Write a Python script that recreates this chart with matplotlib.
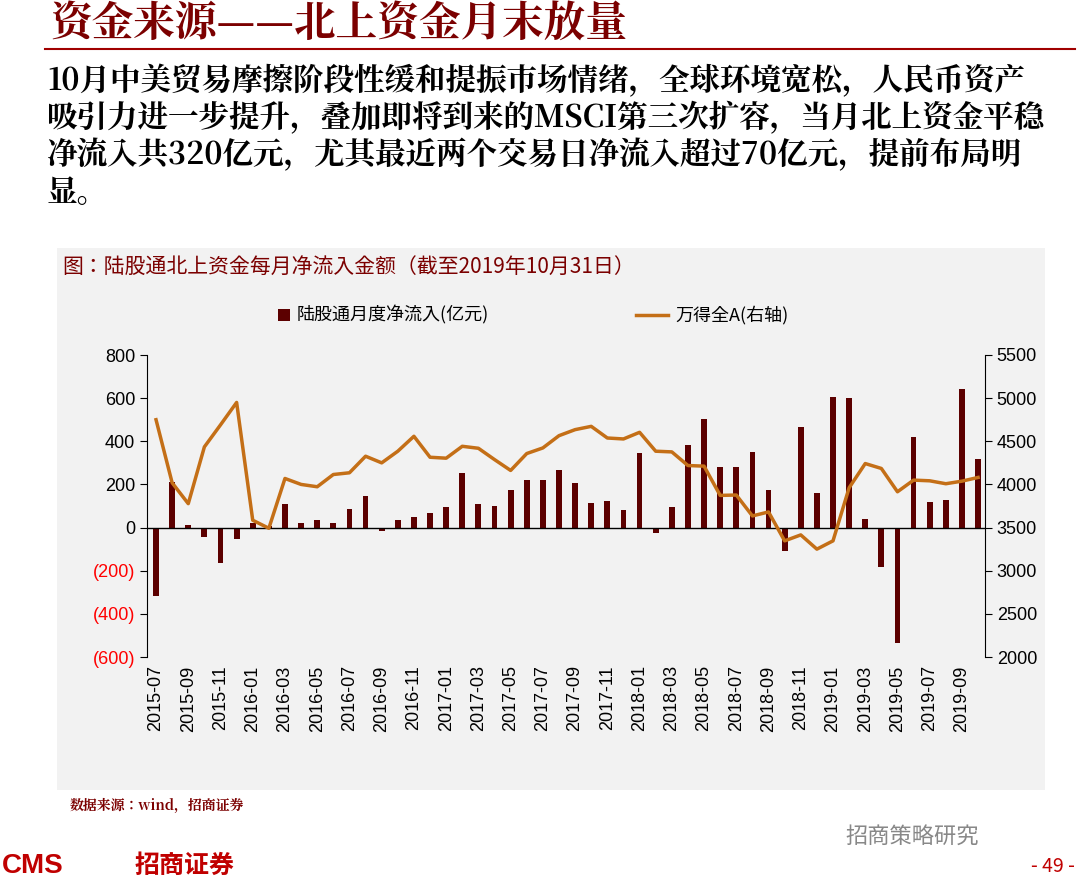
import matplotlib
matplotlib.use("Agg")
import matplotlib.pyplot as plt
from matplotlib import font_manager
from matplotlib.patches import Rectangle
from matplotlib.lines import Line2D

names = sorted({f.name for f in font_manager.fontManager.ttflist if 'CJK' in f.name})
def pick(key):
    for n in names:
        if key in n and 'SC' in n:
            return n
    for n in names:
        if key in n:
            return n
    return names[0] if names else 'DejaVu Sans'
sans = pick('Sans')
serif = pick('Serif')
plt.rcParams['font.family'] = [sans, 'DejaVu Sans']

months = [f"{y}-{m:02d}" for y in range(2015, 2020) for m in range(1, 13)]
months = months[months.index("2015-07"):months.index("2019-10") + 1]
flows = [-315, 213, 12, -45, -165, -52, 20, 5, 107, 20, 36, 22, 86, 148, -15, 36, 49, 66,
         96, 255, 110, 99, 174, 219, 222, 269, 205, 116, 124, 83, 347, -26, 96, 383, 505,
         283, 283, 350, 174, -107, 465, 159, 604, 600, 40, -181, -536, 421, 119, 128, 642, 318]
wind_a = [4750, 4019, 3777, 4435, 4690, 4950, 3585, 3492, 4069, 4000, 3973, 4115, 4135,
          4327, 4250, 4385, 4558, 4315, 4304, 4442, 4419, 4288, 4162, 4358, 4423, 4565,
          4635, 4673, 4538, 4527, 4604, 4385, 4377, 4219, 4212, 3873, 3877, 3635, 3681,
          3346, 3415, 3250, 3346, 3961, 4242, 4185, 3915, 4050, 4042, 4008, 4038, 4081]
left_ticks = [-600, -400, -200, 0, 200, 400, 600, 800]
right_ticks = [2000, 2500, 3000, 3500, 4000, 4500, 5000, 5500]

W, H = 1080, 883
fig = plt.figure(figsize=(W / 100, H / 100), dpi=100)
fig.patch.set_facecolor('white')

def fx(px): return px / W
def fy(py): return 1 - py / H

dark = '#7B0000'
fig.text(fx(50), fy(25), "资金来源——北上资金月末放量", fontsize=30, color=dark,
         va='center', ha='left', fontweight='bold', fontfamily=serif)
fig.add_artist(Line2D([fx(45), fx(1075)], [fy(49), fy(49)], color='#A00000', lw=1.5))
para = ["10月中美贸易摩擦阶段性缓和提振市场情绪，全球环境宽松，人民币资产",
        "吸引力进一步提升，叠加即将到来的MSCI第三次扩容，当月北上资金平稳",
        "净流入共320亿元，尤其最近两个交易日净流入超过70亿元，提前布局明",
        "显。"]
for i, line in enumerate(para):
    fig.text(fx(47), fy(82 + 37 * i), line, fontsize=22, color='black', va='center',
             ha='left', fontweight='bold', fontfamily=serif)

fig.add_artist(Rectangle((fx(57), fy(790)), fx(1045 - 57), fy(248) - fy(790),
                         transform=fig.transFigure, facecolor='#F2F2F2', edgecolor='none', zorder=0))
fig.text(fx(62), fy(267), "图：陆股通北上资金每月净流入金额（截至2019年10月31日）", fontsize=15,
         color=dark, va='center', ha='left')

ax = fig.add_axes([fx(147), fy(657), fx(985 - 147), fy(355) - fy(657)])
ax.set_facecolor('none')
x = list(range(len(months)))
ax.bar(x, flows, width=0.36, color='#5C0000', zorder=2)
ax.axhline(0, color='black', lw=1, zorder=3)
ax.set_xlim(-0.56, 51.43)
ax.set_ylim(-600, 800)
ax.set_yticks(left_ticks)
ax.set_yticklabels([f"({-v})" if v < 0 else str(v) for v in left_ticks], fontsize=13,
                   fontfamily='Liberation Sans')
for lbl, v in zip(ax.get_yticklabels(), left_ticks):
    if v < 0:
        lbl.set_color('red')
ax.set_xticks(x[::2])
ax.set_xticklabels(months[::2], rotation=90, fontsize=13, fontfamily='Liberation Sans')
ax.tick_params(axis='x', length=0, pad=6)
ax.tick_params(axis='y', direction='out', length=5)
for s in ['top', 'right', 'bottom']:
    ax.spines[s].set_visible(False)

ax2 = ax.twinx()
ax2.plot(x, wind_a, color='#C46F17', lw=2.5, zorder=4)
ax2.set_ylim(2000, 5500)
ax2.set_yticks(right_ticks)
ax2.set_yticklabels([str(v) for v in right_ticks], fontsize=13, fontfamily='Liberation Sans')
ax2.tick_params(axis='y', direction='out', length=5)
for s in ['top', 'left', 'bottom']:
    ax2.spines[s].set_visible(False)

fig.add_artist(Rectangle((fx(278), fy(321)), fx(12), fy(309) - fy(321), transform=fig.transFigure,
                         facecolor='#5C0000', edgecolor='none'))
fig.text(fx(297), fy(315), "陆股通月度净流入(亿元)", fontsize=13, va='center', ha='left')
fig.add_artist(Line2D([fx(636), fx(668)], [fy(315), fy(315)], color='#C46F17', lw=2.5))
fig.text(fx(675), fy(315), "万得全A(右轴)", fontsize=13, va='center', ha='left')

fig.text(fx(70), fy(806), "数据来源：wind，招商证券", fontsize=10, color=dark, va='center',
         ha='left', fontweight='bold', fontfamily=serif)
fig.text(fx(845), fy(836), "招商策略研究", fontsize=16, color='#888888', va='center', ha='left')
fig.text(fx(2), fy(866), "CMS", fontsize=20, color='#C00000', va='center', ha='left',
         fontweight='bold', fontfamily='Liberation Sans')
fig.text(fx(135), fy(866), "招商证券", fontsize=18, color='#C00000', va='center', ha='left',
         fontweight='bold')
fig.text(fx(1075), fy(866), "- 49 -", fontsize=14, color='#C00000', va='center', ha='right')

fig.savefig("out.png", dpi=100)
